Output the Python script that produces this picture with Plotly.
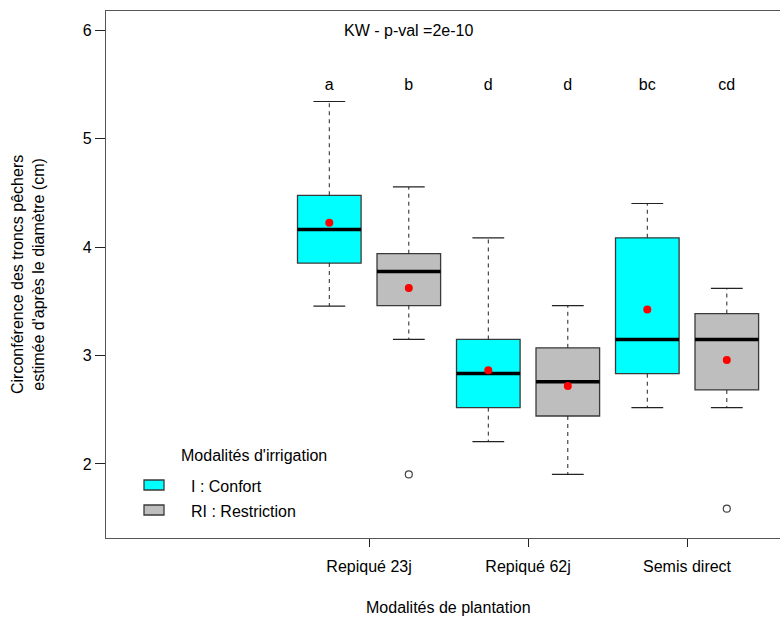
import plotly.graph_objects as go

# ---- data ----
group_labels = ["Repiqué 23j", "Repiqué 62j", "Semis direct"]
irrigation_labels = ["I : Confort", "RI : Restriction"]
positions = [1, 2, 3, 4, 5, 6]
box_irrigation = [0, 1, 0, 1, 0, 1]
lower_whisker = [3.456, 3.148, 2.206, 1.903, 2.519, 2.519]
q1 = [3.853, 3.461, 2.519, 2.442, 2.832, 2.682]
median = [4.163, 3.776, 2.835, 2.758, 3.148, 3.148]
q3 = [4.478, 3.939, 3.148, 3.071, 4.086, 3.387]
upper_whisker = [5.343, 4.555, 4.086, 3.461, 4.402, 3.620]
means = [4.224, 3.623, 2.863, 2.718, 3.424, 2.958]
outlier_pos = [2, 6]
outlier_val = [1.903, 1.587]
letters = ["a", "b", "d", "d", "bc", "cd"]
letters_y = 5.49
kw_text = "KW - p-val =2e-10"
kw_x, kw_y = 2, 6.0
y_ticks = [2, 3, 4, 5, 6]

# ---- style ----
FONT = "Liberation Sans, Arial, sans-serif"
FS = 16
fill_colors = ["#00FFFF", "#BEBEBE"]
edge = "#3a3a3a"
box_w = 0.8
cap_w = 0.4

W, H = 780, 617
ML, MR, MT, MB = 106, 0, 11, 79
PW, PH = W - ML - MR, H - MT - MB

def px_x(p):
    return (p - ML) / PW

def px_y(p):
    return (MT + PH - p) / PH

fig = go.Figure()

# boxes as bars from q1 to q3
for k in range(2):
    idx = [i for i in range(len(positions)) if box_irrigation[i] == k]
    fig.add_trace(go.Bar(
        x=[positions[i] for i in idx],
        y=[q3[i] - q1[i] for i in idx],
        base=[q1[i] for i in idx],
        width=box_w,
        marker=dict(color=fill_colors[k], line=dict(color=edge, width=1.3)),
        name=irrigation_labels[k],
        showlegend=False,
        hoverinfo="skip",
    ))

# dashed whiskers
wx, wy = [], []
for i, p in enumerate(positions):
    wx += [p, p, None, p, p, None]
    wy += [q3[i], upper_whisker[i], None, q1[i], lower_whisker[i], None]
fig.add_trace(go.Scatter(x=wx, y=wy, mode="lines",
                         line=dict(color="#222", width=1, dash="4px,4px"),
                         showlegend=False, hoverinfo="skip"))

# whisker caps
cx, cy = [], []
for i, p in enumerate(positions):
    for v in (upper_whisker[i], lower_whisker[i]):
        cx += [p - cap_w / 2, p + cap_w / 2, None]
        cy += [v, v, None]
fig.add_trace(go.Scatter(x=cx, y=cy, mode="lines",
                         line=dict(color="#222", width=1.2),
                         showlegend=False, hoverinfo="skip"))

# medians
mx, my = [], []
for i, p in enumerate(positions):
    mx += [p - box_w / 2, p + box_w / 2, None]
    my += [median[i], median[i], None]
fig.add_trace(go.Scatter(x=mx, y=my, mode="lines",
                         line=dict(color="black", width=3.5),
                         showlegend=False, hoverinfo="skip"))

# outliers
fig.add_trace(go.Scatter(x=outlier_pos, y=outlier_val, mode="markers",
                         marker=dict(symbol="circle-open", size=7,
                                     color="#444", line=dict(width=1.2)),
                         showlegend=False, hoverinfo="skip"))

# means
fig.add_trace(go.Scatter(x=positions, y=means, mode="markers",
                         marker=dict(symbol="circle", size=8, color="red"),
                         showlegend=False, hoverinfo="skip"))

# letters
fig.add_trace(go.Scatter(x=positions, y=[letters_y] * len(positions),
                         mode="text", text=letters,
                         textfont=dict(family=FONT, size=FS, color="black"),
                         showlegend=False, hoverinfo="skip"))

annotations = [
    dict(x=kw_x, y=kw_y, xref="x", yref="y", text=kw_text, showarrow=False,
         font=dict(family=FONT, size=FS, color="black"),
         xanchor="center", yanchor="middle"),
    dict(x=px_x(27.5), y=0.5, xref="paper", yref="paper",
         text="Circonférence des troncs pêchers<br>estimée d'après le diamètre (cm)",
         textangle=-90, showarrow=False,
         font=dict(family=FONT, size=FS, color="black"),
         xanchor="center", yanchor="middle"),
    dict(x=px_x(448), y=px_y(607), xref="paper", yref="paper",
         text="Modalités de plantation", showarrow=False,
         font=dict(family=FONT, size=FS, color="black"),
         xanchor="center", yanchor="middle"),
    dict(x=px_x(179), y=px_y(455), xref="paper", yref="paper",
         text="Modalités d'irrigation", showarrow=False,
         font=dict(family=FONT, size=FS, color="black"),
         xanchor="left", yanchor="middle"),
]
shapes = []
legend_rows = [485, 510]
for k in range(2):
    yc = legend_rows[k]
    shapes.append(dict(type="rect", xref="paper", yref="paper",
                       x0=px_x(144), x1=px_x(164), y0=px_y(yc + 5), y1=px_y(yc - 5),
                       fillcolor=fill_colors[k], line=dict(color=edge, width=1.3)))
    annotations.append(dict(x=px_x(189), y=px_y(yc + 1), xref="paper", yref="paper",
                            text=irrigation_labels[k], showarrow=False,
                            font=dict(family=FONT, size=FS, color="black"),
                            xanchor="left", yanchor="middle"))

x_left = 1 - (329.3 - ML) / 79.5
x_right = x_left + PW / 79.5
y_lo = 6 - (MT + PH - 30.3) / 108.4
y_hi = 6 + (30.3 - MT) / 108.4

fig.update_layout(
    width=W, height=H,
    margin=dict(l=ML, r=MR, t=MT, b=MB),
    plot_bgcolor="white", paper_bgcolor="white",
    font=dict(family=FONT, size=FS, color="black"),
    barmode="overlay",
    showlegend=False,
    annotations=annotations,
    shapes=shapes,
    xaxis=dict(range=[x_left, x_right],
               tickvals=[1.5, 3.5, 5.5], ticktext=group_labels,
               ticks="outside", ticklen=8, tickcolor="#222",
               ticklabelstandoff=6,
               showline=True, linecolor="#555", linewidth=1.2, mirror=True,
               showgrid=False, zeroline=False,
               tickfont=dict(family=FONT, size=FS, color="black")),
    yaxis=dict(range=[y_lo, y_hi], tickvals=y_ticks,
               ticks="outside", ticklen=10, tickcolor="#222",
               showline=True, linecolor="#555", linewidth=1.2, mirror=False,
               showgrid=False, zeroline=False,
               tickfont=dict(family=FONT, size=FS, color="black")),
)

fig.write_html(
    "out.html",
    config={"displayModeBar": False},
    post_script="document.body.style.margin='0';document.body.style.overflow='hidden';",
)
